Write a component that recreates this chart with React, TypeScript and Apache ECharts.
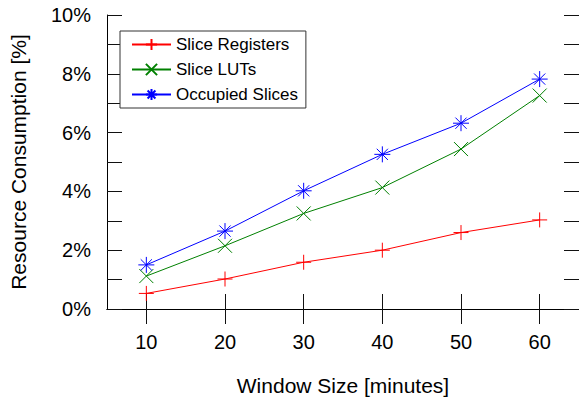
import React, { useEffect, useRef } from "react";
import * as echarts from "echarts";

const categories = ["10", "20", "30", "40", "50", "60"];
const sliceRegisters = [0.53, 1.02, 1.59, 2.0, 2.6, 3.03];
const sliceLUTs = [1.12, 2.15, 3.25, 4.13, 5.44, 7.26];
const occupiedSlices = [1.5, 2.65, 4.02, 5.26, 6.32, 7.82];
const seriesNames = ["Slice Registers", "Slice LUTs", "Occupied Slices"];
const yTicks = { min: 0, max: 10, interval: 2 };

const FONT = "Liberation Sans, Arial, Helvetica, sans-serif";
const PLUS = "path://M5,0L5,10M0,5L10,5";
const CROSS = "path://M0,0L10,10M0,10L10,0";
const STAR = "path://M5,0L5,10M0,5L10,5M1.5,1.5L8.5,8.5M1.5,8.5L8.5,1.5";

export default function App() {
  const ref = useRef<HTMLDivElement>(null);
  useEffect(() => {
    document.body.style.margin = "0";
    const chart = echarts.init(ref.current!, null, { renderer: "svg" });
    const mk = (name: string, data: number[], color: string, symbol: string, size: number) => ({
      name,
      type: "line",
      data,
      symbol,
      symbolSize: size,
      showAllSymbol: true,
      lineStyle: { color, width: 1 },
      itemStyle: { color: "none", borderColor: color, borderWidth: 1 },
      emphasis: { disabled: true },
      xAxisIndex: 0,
      yAxisIndex: 0,
    });
    const tickCommon = { show: true, inside: true, length: 15, lineStyle: { color: "#111", width: 1 } };
    chart.setOption({
      animation: false,
      textStyle: { fontFamily: FONT },
      grid: { left: 105, top: 15, right: -3, bottom: 96 },
      legend: {
        orient: "vertical",
        left: 120,
        top: 31,
        data: seriesNames,
        itemWidth: 39,
        itemHeight: 14,
        itemGap: 8,
        padding: [5, 8, 5, 11],
        backgroundColor: "#fff",
        borderColor: "#333",
        borderWidth: 1,
        textStyle: { fontFamily: FONT, fontSize: 17, color: "#000" },
      },
      xAxis: [
        {
          type: "category",
          data: categories,
          boundaryGap: true,
          name: "Window Size [minutes]",
          nameLocation: "middle",
          nameGap: 66,
          nameTextStyle: { fontFamily: FONT, fontSize: 21, color: "#000" },
          axisLine: { show: true, lineStyle: { color: "#000", width: 1 } },
          axisTick: { ...tickCommon, alignWithLabel: true },
          axisLabel: { fontFamily: FONT, fontSize: 20, color: "#000", margin: 23 },
          splitLine: { show: false },
        },
        {
          type: "category",
          data: categories,
          position: "top",
          boundaryGap: true,
          axisLine: { show: true, lineStyle: { color: "#000", width: 1 } },
          axisTick: { ...tickCommon, alignWithLabel: true },
          axisLabel: { show: false },
          splitLine: { show: false },
        },
      ],
      yAxis: [
        {
          type: "value",
          ...yTicks,
          name: "Resource Consumption [%]",
          nameLocation: "middle",
          nameGap: 78,
          nameTextStyle: { fontFamily: FONT, fontSize: 21, color: "#000" },
          axisLine: { show: true, lineStyle: { color: "#000", width: 1 } },
          axisTick: tickCommon,
          minorTick: { show: true, splitNumber: 2, length: 15, lineStyle: { color: "#111", width: 1 } },
          axisLabel: { fontFamily: FONT, fontSize: 20, color: "#000", margin: 16, formatter: "{value}%" },
          splitLine: { show: false },
          minorSplitLine: { show: false },
        },
        {
          type: "value",
          ...yTicks,
          position: "right",
          axisLine: { show: true, lineStyle: { color: "#000", width: 1 } },
          axisTick: tickCommon,
          minorTick: { show: true, splitNumber: 2, length: 15, lineStyle: { color: "#111", width: 1 } },
          axisLabel: { show: false },
          splitLine: { show: false },
          minorSplitLine: { show: false },
        },
      ],
      series: [
        mk(seriesNames[0], sliceRegisters, "#ff0000", PLUS, 15),
        mk(seriesNames[1], sliceLUTs, "#008000", CROSS, 14),
        mk(seriesNames[2], occupiedSlices, "#0000ff", STAR, 16),
      ],
    });
    return () => chart.dispose();
  }, []);
  return <div ref={ref} style={{ width: 579, height: 405 }} />;
}
